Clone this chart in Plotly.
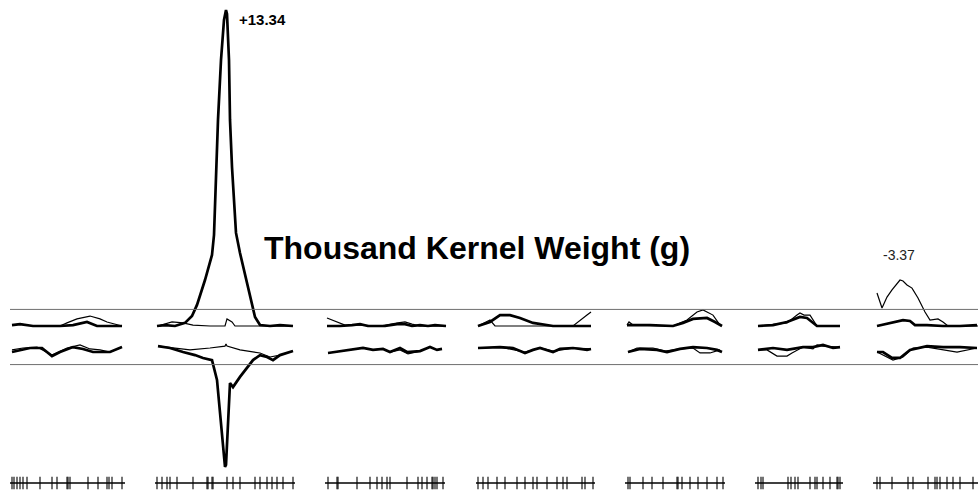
import plotly.graph_objects as go

# ---------------- data (cumulative map position, LOD / effect) ----------------
CHROMS = ["1", "2", "3", "4", "5", "6", "7"]
CHR_SPAN = [(10, 125), (155, 295), (325, 445), (476, 595), (625, 725), (755, 843), (873, 980)]

MARKERS = [
    [12, 14, 17, 20, 23, 27, 40, 52, 57, 67, 68, 70, 88, 98, 107, 109, 112, 122],
    [157, 162, 167, 170, 177, 193, 207, 208, 212, 213, 227, 233, 240, 255, 260, 267, 272, 277, 283, 293],
    [328, 337, 338, 357, 370, 377, 382, 387, 390, 407, 418, 422, 427, 432, 433, 435, 437, 443],
    [478, 483, 488, 497, 505, 517, 525, 533, 537, 547, 557, 563, 567, 582, 585, 593],
    [628, 630, 643, 652, 663, 677, 678, 682, 690, 698, 707, 717, 723],
    [758, 761, 763, 788, 791, 795, 798, 810, 815, 817, 823, 830, 837, 838, 840],
    [877, 880, 892, 908, 913, 928, 935, 937, 940, 947, 953, 960, 973],
]

# upper panel, thick line
UP_THICK_POS = [
    [12, 20, 33, 60, 73, 87, 97, 122],
    [157, 165, 175, 185, 192, 197, 205, 212, 214, 216, 218, 221, 224, 226, 227, 229, 230, 232, 236, 240, 245, 250, 255, 260, 270, 280, 293],
    [327, 340, 352, 360, 368, 385, 397, 405, 412, 420, 428, 435, 446],
    [478, 490, 500, 510, 520, 533, 553, 573, 591],
    [627, 650, 673, 683, 693, 707, 715, 722],
    [758, 773, 787, 800, 807, 817, 840],
    [877, 890, 903, 910, 915, 927, 943, 960, 977],
]
UP_THICK_LOD = [
    [0.04, 0.08, 0, 0, 0.04, 0.17, 0, 0],
    [0, 0.04, 0, 0.13, 0.42, 0.89, 1.94, 3.00, 3.84, 6.37, 8.70, 11.23, 12.92, 13.34, 13.17, 11.23, 8.70, 6.71, 3.93, 3.08, 2.15, 1.22, 0.38, 0.04, 0, 0.04, 0],
    [0, 0, 0.04, 0.08, 0, 0, 0.08, 0.08, 0, 0.04, 0, 0.04, 0],
    [0, 0.17, 0.46, 0.46, 0.34, 0.13, 0, 0, 0],
    [0.04, 0.04, 0, 0.13, 0.30, 0.34, 0.17, 0],
    [0, 0.04, 0.17, 0.38, 0.34, 0, 0],
    [0, 0.13, 0.25, 0.21, 0.04, 0.04, 0, 0, 0.04],
]

# upper panel, thin line
UP_THIN_POS = [
    [12, 20, 33, 60, 67, 77, 90, 100, 107, 120, 122],
    [158, 172, 183, 193, 210, 225, 227, 232, 235, 260, 292],
    [327, 337, 345, 360, 380, 398, 405, 412, 420, 446],
    [478, 490, 495, 520, 573, 587, 591],
    [627, 629, 633, 673, 687, 697, 703, 713, 720, 722],
    [758, 787, 797, 800, 804, 810, 817, 840],
    [877, 882, 887, 892, 900, 903, 907, 912, 918, 925, 930, 935, 938, 943, 948, 978],
]
UP_THIN_LOD = [
    [0.04, 0.08, 0, 0, 0.13, 0.30, 0.42, 0.30, 0.17, 0.04, 0],
    [0, 0.17, 0.13, 0.04, 0, 0, 0.30, 0.17, 0, 0, 0],
    [0.34, 0.17, 0.04, 0.04, 0, 0.13, 0.17, 0.08, 0, 0],
    [0, 0.25, 0, 0, 0, 0.46, 0.59],
    [0.04, 0.17, 0.04, 0, 0.25, 0.59, 0.68, 0.46, 0.04, 0],
    [0, 0.13, 0.46, 0.55, 0.46, 0.46, 0, 0],
    [1.39, 0.76, 1.22, 1.52, 1.94, 1.90, 1.73, 1.60, 1.18, 0.59, 0.25, 0.30, 0.30, 0.17, 0, 0],
]

# lower panel, thick line
LO_THICK_POS = [
    [12, 20, 30, 42, 52, 60, 73, 83, 93, 110, 122],
    [158, 170, 183, 195, 203, 212, 217, 221, 225, 226, 228, 230, 233, 240, 253, 260, 267, 273, 280, 290, 293],
    [328, 347, 363, 373, 383, 390, 400, 407, 420, 430, 437, 442],
    [478, 500, 513, 525, 533, 540, 553, 560, 573, 587, 591],
    [628, 640, 657, 667, 680, 693, 707, 717, 722],
    [758, 773, 787, 803, 813, 823, 833, 840],
    [877, 883, 892, 900, 910, 927, 943, 960, 977],
]
LO_THICK_VAL = [
    [-0.17, -0.08, 0, 0, -0.34, -0.17, 0.04, -0.04, -0.17, -0.17, 0.04],
    [0.08, 0, -0.17, -0.30, -0.42, -0.51, -1.35, -3.25, -5.02, -4.94, -3.04, -1.48, -1.65, -1.22, -0.51, -0.30, -0.38, -0.51, -0.30, -0.17, -0.13],
    [-0.21, -0.08, 0, -0.08, -0.04, -0.17, 0, -0.17, -0.13, 0.04, -0.08, -0.04],
    [0, 0.04, 0, -0.21, -0.08, 0, -0.17, -0.04, 0, -0.08, -0.04],
    [-0.17, -0.04, -0.08, -0.17, -0.04, 0.04, 0, -0.08, -0.17],
    [-0.08, 0, -0.08, 0.04, 0.04, 0.13, 0, 0.04],
    [-0.17, -0.17, -0.42, -0.42, -0.08, 0.08, 0.04, 0.04, 0],
]

# lower panel, thin line
LO_THIN_POS = [
    [12, 23, 37, 52, 67, 80, 90, 100, 110, 122],
    [158, 175, 190, 210, 225, 226, 227, 240, 260, 270, 280, 290, 293],
    [328, 347, 363, 373, 383, 390, 400, 408, 415, 420, 430, 437, 442],
    [478, 500, 525, 540, 553, 575, 591],
    [628, 637, 653, 665, 680, 693, 700, 710, 720],
    [758, 767, 777, 787, 792, 803, 813, 817, 823, 840],
    [877, 893, 903, 913, 927, 957, 977],
]
LO_THIN_VAL = [
    [-0.08, 0, 0.04, -0.30, 0, 0.13, -0.04, -0.08, -0.17, 0.04],
    [0.08, 0, -0.08, 0, 0.08, 0.17, 0.08, -0.08, -0.21, -0.38, -0.30, -0.17, -0.13],
    [-0.21, -0.08, 0, -0.08, -0.04, -0.17, -0.08, -0.25, -0.17, -0.13, 0.04, -0.08, -0.04],
    [0, 0.04, -0.17, 0, -0.13, 0, -0.04],
    [-0.17, 0, 0, -0.13, -0.04, 0, -0.21, -0.21, -0.08],
    [-0.08, -0.08, -0.34, -0.34, -0.21, 0.04, -0.04, 0.13, 0.08, 0.04],
    [-0.17, -0.51, -0.38, 0, 0.04, -0.17, 0],
]

THRESHOLD = 0.7
PEAK_LABEL = "+13.34"
PEAK_POS, PEAK_LOD = 226, 13.34
SEC_LABEL = "-3.37"
SEC_POS, SEC_LOD = 898, 3.0
TITLE = "Thousand Kernel Weight (g)"

# ---------------- figure ----------------
fig = go.Figure()
BLACK = "#000000"

for i in range(len(CHROMS)):
    fig.add_trace(go.Scatter(x=UP_THIN_POS[i], y=UP_THIN_LOD[i], mode="lines",
                             line=dict(color=BLACK, width=1.2), yaxis="y", hoverinfo="skip"))
    fig.add_trace(go.Scatter(x=UP_THICK_POS[i], y=UP_THICK_LOD[i], mode="lines",
                             line=dict(color=BLACK, width=2.7), yaxis="y", hoverinfo="skip"))
    fig.add_trace(go.Scatter(x=LO_THIN_POS[i], y=LO_THIN_VAL[i], mode="lines",
                             line=dict(color=BLACK, width=1.2), yaxis="y2", hoverinfo="skip"))
    fig.add_trace(go.Scatter(x=LO_THICK_POS[i], y=LO_THICK_VAL[i], mode="lines",
                             line=dict(color=BLACK, width=2.7), yaxis="y2", hoverinfo="skip"))
    # chromosome map strip
    fig.add_trace(go.Scatter(x=list(CHR_SPAN[i]), y=[0, 0], mode="lines",
                             line=dict(color=BLACK, width=1.3), yaxis="y3", hoverinfo="skip"))
    fig.add_trace(go.Scatter(x=MARKERS[i], y=[0] * len(MARKERS[i]), mode="markers",
                             marker=dict(symbol="line-ns", size=9,
                                         line=dict(color=BLACK, width=1.1)),
                             yaxis="y3", hoverinfo="skip"))

# threshold lines
fig.add_shape(type="line", xref="x", yref="y", x0=10, x1=980, y0=THRESHOLD, y1=THRESHOLD,
              line=dict(color="#6e6e6e", width=1))
fig.add_shape(type="line", xref="x", yref="y2", x0=10, x1=980, y0=-THRESHOLD, y1=-THRESHOLD,
              line=dict(color="#6e6e6e", width=1))

fig.add_annotation(x=PEAK_POS + 11, y=PEAK_LOD - 0.4, xref="x", yref="y", text="<b>" + PEAK_LABEL + "</b>",
                   showarrow=False, xanchor="left", yanchor="middle",
                   font=dict(family="Liberation Sans", size=15, color=BLACK))
fig.add_annotation(x=SEC_POS - 17, y=SEC_LOD, xref="x", yref="y", text=SEC_LABEL,
                   showarrow=False, xanchor="left", yanchor="middle",
                   font=dict(family="Liberation Sans", size=14, color="#222222"))
fig.add_annotation(x=477, y=3.3, xref="x", yref="y", text="<b>" + TITLE + "</b>",
                   showarrow=False, xanchor="center", yanchor="middle",
                   font=dict(family="Liberation Sans", size=32, color=BLACK))

hidden = dict(visible=False, showgrid=False, zeroline=False, fixedrange=True)
fig.update_layout(
    width=978, height=495,
    margin=dict(l=0, r=0, t=0, b=0),
    paper_bgcolor="white", plot_bgcolor="white",
    showlegend=False,
    xaxis=dict(range=[0, 978], domain=[0, 1], **hidden),
    yaxis=dict(range=[-7.135, 13.762], domain=[0, 1], **hidden),
    yaxis2=dict(range=[-6.206, 14.691], overlaying="y", **hidden),
    yaxis3=dict(range=[-1, 1], domain=[0, 0.0485], **hidden),
)

fig.write_html("out.html", config={"displayModeBar": False},
               post_script="document.body.style.margin='0';document.body.style.overflow='hidden';")
